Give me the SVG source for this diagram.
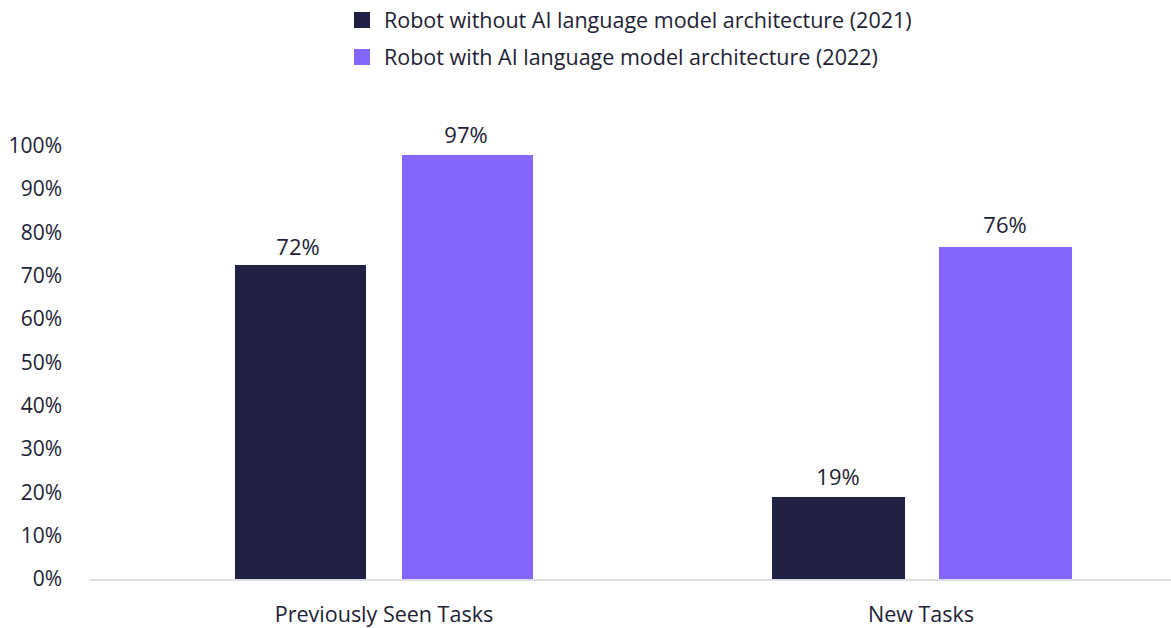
<svg xmlns="http://www.w3.org/2000/svg" width="1171" height="628" viewBox="0 0 1171 628">
<style>
text{font-family:"Open Sans","Noto Sans","Liberation Sans",sans-serif;fill:#1e1e36;font-size:21.5px}
.tick{text-anchor:end;font-size:21px}
.mid{text-anchor:middle}
.val{text-anchor:middle;font-size:22px}
.dark{fill:#202044}
.purple{fill:#8466ff}
</style>
<rect width="1171" height="628" fill="#ffffff"/>
<g id="legend">
<rect class="dark" x="354" y="12" width="16" height="16"/>
<text x="384" y="27.5">Robot without AI language model architecture (2021)</text>
<rect class="purple" x="354" y="49" width="16" height="16"/>
<text x="384" y="64.5">Robot with AI language model architecture (2022)</text>
</g>
<g id="y-axis">
<text class="tick" x="62" y="153">100%</text>
<text class="tick" x="62" y="196">90%</text>
<text class="tick" x="62" y="240">80%</text>
<text class="tick" x="62" y="283">70%</text>
<text class="tick" x="62" y="326">60%</text>
<text class="tick" x="62" y="370">50%</text>
<text class="tick" x="62" y="413">40%</text>
<text class="tick" x="62" y="456">30%</text>
<text class="tick" x="62" y="500">20%</text>
<text class="tick" x="62" y="543">10%</text>
<text class="tick" x="62" y="586">0%</text>
</g>
<g id="bars">
<rect class="dark" x="235" y="265" width="131" height="314"/>
<rect class="purple" x="402" y="155" width="131" height="424"/>
<rect class="dark" x="772" y="497" width="133" height="82"/>
<rect class="purple" x="939" y="247" width="133" height="332"/>
</g>
<g id="value-labels">
<text class="val" x="298" y="255">72%</text>
<text class="val" x="466" y="143">97%</text>
<text class="val" x="838" y="485">19%</text>
<text class="val" x="1005" y="233">76%</text>
</g>
<line id="x-axis" x1="90" y1="580" x2="1171" y2="580" stroke="#dcdce4" stroke-width="2"/>
<g id="categories">
<text class="mid" x="384" y="622">Previously Seen Tasks</text>
<text class="mid" x="921" y="622">New Tasks</text>
</g>
</svg>
